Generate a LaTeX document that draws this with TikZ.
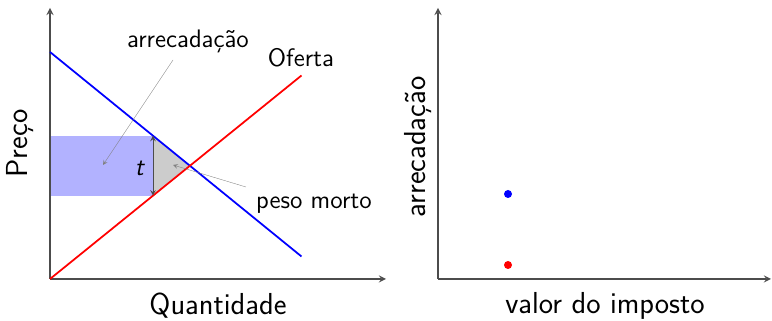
\documentclass[tikz,border=0pt]{standalone}
\usepackage{tikz}
\usetikzlibrary{arrows,positioning,calc}
\renewcommand{\familydefault}{\sfdefault}

\begin{document}
\begin{tikzpicture}[>=stealth]
 \useasboundingbox (0,0) rectangle (15.44,6.42);
 \tikzset{axis/.style={->,black!70,thick},
   note/.style={->,gray,very thin},
   curve/.style={line width=1pt}}
 % left panel
  \coordinate (O) at (1,0.84);
  \coordinate (Ytop) at (1,6.26);
  \coordinate (Xend) at (7.72,0.84);
  \coordinate (D1) at (1,5.38);
  \coordinate (D2) at (6.03,1.29);
  \coordinate (S2) at (6.03,4.91);
  \coordinate (E) at (3.8,3.105);
  \coordinate (Ta) at (3.06,3.706);
  \coordinate (Tb) at (3.06,2.507);
  \coordinate (Rl) at (1,2.507);
   \fill[blue!30] (Rl) rectangle (Ta);
   \fill[gray!40] (Ta)--(Tb)--(E)--cycle;
   \draw[axis] (O)--(Ytop);
   \draw[axis] (O)--(Xend);
   \draw[curve,blue] (D1)--(D2);
   \draw[curve,red] (O)--(S2);
   \draw[<->,black!70] (Ta)--(Tb);
      \node (t) at (2.8,3.05) {\Large\textit{t}};
      \node (oferta) at (6.02,5.26) {\Large Oferta};
      \node (arrec) at (3.76,5.6) {\Large arrecadação};
      \node (peso) at (6.28,2.34) {\Large peso morto};
      \node[rotate=90] (preco) at (0.4,3.55) {\LARGE Preço};
      \node (quant) at (4.36,0.3) {\LARGE Quantidade};
  \coordinate (a1) at (3.46,5.22);
  \coordinate (a2) at (2.06,3.12);
  \coordinate (p1) at (4.92,2.68);
  \coordinate (p2) at (3.46,3.12);
   \draw[note] (a1)--(a2);
   \draw[note] (p1)--(p2);
 % right panel
  \coordinate (O2) at (8.76,0.84);
  \coordinate (Ytop2) at (8.76,6.26);
  \coordinate (Xend2) at (15.42,0.84);
   \draw[axis] (O2)--(Ytop2);
   \draw[axis] (O2)--(Xend2);
   \fill[blue] (10.16,2.54) circle (0.08);
   \fill[red] (10.16,1.12) circle (0.08);
      \node[rotate=90] (arrec2) at (8.36,3.48) {\LARGE arrecadação};
      \node (valor) at (12.1,0.3) {\LARGE valor do imposto};
\end{tikzpicture}
\end{document}
